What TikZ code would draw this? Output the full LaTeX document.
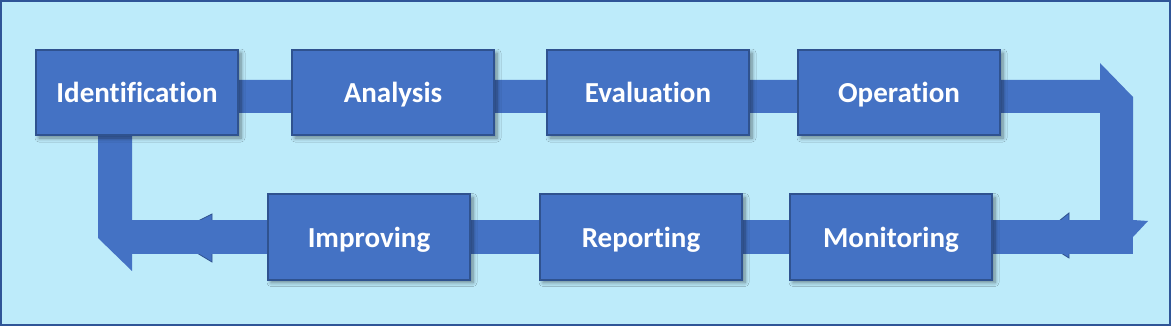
\documentclass[tikz,border=0pt]{standalone}
\usepackage{fontspec}
\setmainfont{Carlito}[Ligatures={NoCommon,NoRare,NoContextual}]
\usetikzlibrary{shadows.blur}
\definecolor{bg}{RGB}{189,235,250}
\definecolor{boxfill}{RGB}{68,114,196}
\definecolor{boxline}{RGB}{47,82,143}
\definecolor{frame}{RGB}{47,85,151}
\tikzset{
  stagebox/.style={draw=boxline, line width=2pt, fill=boxfill, minimum width=202pt, minimum height=85pt,
    inner sep=0pt, text=white, font=\fontsize{29}{34}\selectfont\bfseries, text height=21pt, text depth=0pt,
    blur shadow={shadow xshift=3pt, shadow yshift=-3pt, shadow blur steps=6, shadow blur radius=4pt, shadow opacity=45}},
  band/.style={fill=boxfill, draw=none},
  barb/.style={fill=boxfill, draw=boxline, line width=0.8pt, line join=miter},
}
\begin{document}
\begin{tikzpicture}[x=1pt,y=-1pt]
\useasboundingbox (0,0) rectangle (1171,326);
\fill[bg] (0,0) rectangle (1171,326);
\draw[frame, line width=2.4pt] (1.2,1.2) rectangle (1169.8,324.8);
% arrow band: top row and right side
\fill[band] (130,80) -- (1100,80) -- (1100,63) -- (1133,97) -- (1133,225) -- (1100,225) -- (1100,113) -- (130,113) -- cycle;
% right corner head peeking out
\fill[band] (1133,220) -- (1148,221) -- (1133,237) -- cycle;
% barbs along the bottom band
\fill[barb] (1069,213) -- (1069,221) -- (1059,221) -- cycle;
\fill[barb] (1069,258) -- (1069,253) -- (1061,253) -- cycle;
\fill[barb] (212,214) -- (212,221) -- (198,221) -- cycle;
\fill[barb] (212,262) -- (212,253) -- (197,253) -- cycle;
% bottom band and left side
\fill[band] (132,220) rectangle (1133,254);
\fill[band] (98,130) -- (132,130) -- (132,271) -- (98,238) -- cycle;
% stages
\node[stagebox] (id) at (137,92.5) {Identification};
\node[stagebox] (an) at (393,92.5) {Analysis};
\node[stagebox] (ev) at (648,92.5) {Evaluation};
\node[stagebox] (op) at (899,92.5) {Operation};
\node[stagebox] (im) at (369,237) {Improving};
\node[stagebox] (re) at (641,237) {Reporting};
\node[stagebox] (mo) at (891,237) {Monitoring};
\end{tikzpicture}
\end{document}
